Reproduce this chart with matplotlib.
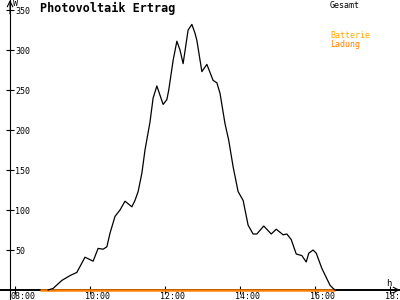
import matplotlib
matplotlib.use('Agg')
import matplotlib.pyplot as plt

# Ertrag (W) over the day
times = ['08:53', '09:01', '09:15', '09:28', '09:39', '09:52', '10:05', '10:13',
         '10:21', '10:27', '10:32', '10:40', '10:48', '10:56', '11:07', '11:12',
         '11:17', '11:23', '11:28', '11:36', '11:41', '11:47', '11:57', '12:03',
         '12:06', '12:13', '12:19', '12:24', '12:29', '12:37', '12:43', '12:48',
         '12:51', '12:59', '13:07', '13:17', '13:23', '13:28', '13:36', '13:42',
         '13:49', '13:57', '14:05', '14:13', '14:21', '14:27', '14:38', '14:50',
         '14:58', '15:09', '15:15', '15:22', '15:30', '15:39', '15:46', '15:50',
         '15:57', '16:02', '16:11', '16:24', '16:29', '16:32']
watts = [0, 2, 12, 18, 22, 41, 36, 52,
         51, 54, 71, 92, 100, 111, 104, 112,
         123, 146, 175, 210, 240, 255, 232, 238,
         250, 287, 311, 300, 283, 325, 332, 321,
         312, 273, 282, 262, 259, 246, 208, 187,
         154, 123, 112, 81, 70, 70, 80, 70,
         76, 69, 70, 63, 45, 43, 35, 46,
         50, 46, 27, 6, 2, 0]

# Batterie Ladung (W)
charge_times = ['08:40', '16:32']
charge_watts = [0, 0]

xticks = [8, 10, 12, 14, 16, 18]
yticks = [50, 100, 150, 200, 250, 300, 350]

title = 'Photovoltaik Ertrag'
legend_items = [('Gesamt', 'black'), ('Batterie', '#ffaa00'), ('Ladung', '#ff8000')]


def to_hours(t):
    h, m = t.split(':')
    return int(h) + int(m) / 60.0


mono = 'DejaVu Sans Mono'

fig = plt.figure(figsize=(4, 3), dpi=100)
ax = fig.add_axes([0, 0, 1, 1])
ax.set_xlim(7.6, 18.267)
ax.set_ylim(-12.5, 362.5)

for s in ['top', 'right']:
    ax.spines[s].set_visible(False)
ax.spines['left'].set_position(('data', 7.867))
ax.spines['bottom'].set_position(('data', 0))
ax.spines['left'].set_linewidth(0.8)
ax.spines['bottom'].set_linewidth(1.4)
ax.set_xticks(xticks)
ax.set_yticks(yticks)
ax.tick_params(direction='inout', length=6, width=0.8,
               labelbottom=False, labelleft=False)

# axis arrows
ax.annotate('', xy=(18.267, 0), xytext=(18.0, 0),
            arrowprops=dict(arrowstyle='->', lw=0.8, color='black',
                            shrinkA=0, shrinkB=0))
ax.annotate('', xy=(7.867, 362.5), xytext=(7.867, 345),
            arrowprops=dict(arrowstyle='->', lw=0.8, color='black',
                            shrinkA=0, shrinkB=0))

ax.plot([to_hours(t) for t in times], watts, color='black', lw=0.9, zorder=4)
ax.plot([to_hours(t) for t in charge_times], charge_watts,
        color='#ff8000', lw=1.8, solid_capstyle='butt', zorder=3)

for h in xticks:
    ax.text(h - 0.13, -8, '%02d:00' % h, fontsize=6, family=mono,
            ha='left', va='center', clip_on=False)
for v in yticks:
    ax.text(8.0, v - 2, str(v), fontsize=6, family=mono,
            ha='left', va='center')

ax.text(7.95, 358, 'W', fontsize=6, family=mono, ha='left', va='center')
ax.text(17.98, 8, 'h', fontsize=6.5, family=mono, ha='center', va='center')

fig.text(40 / 400, 1 - 8 / 300, title, fontsize=8.5, family=mono,
         weight='bold', ha='left', va='center')
for (label, col), py in zip(legend_items, [5, 36, 44]):
    fig.text(330 / 400, 1 - py / 300, label, fontsize=6, family=mono,
             color=col, ha='left', va='center')

fig.savefig('out.png', dpi=100)
